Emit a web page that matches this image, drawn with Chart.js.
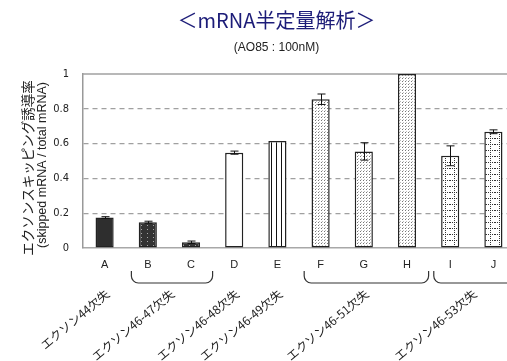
<!DOCTYPE html>
<html><head><meta charset="utf-8">
<script src="https://cdn.jsdelivr.net/npm/chart.js@4.4.0/dist/chart.umd.min.js"></script>
<style>
html,body{margin:0;padding:0;background:#fff;overflow:hidden;width:507px;height:361px}
#wrap{position:relative;width:515px;height:361px}
</style></head><body>
<div id="wrap"><canvas id="c"></canvas></div>
<script>
// ---- data ----
const categories = ['A','B','C','D','E','F','G','H','I','J'];
const values = [0.175, 0.148, 0.033, 0.548, 0.615, 0.855, 0.555, 1.0, 0.530, 0.668];
const errors = [0.005, 0.006, 0.007, 0.009, 0, 0.03, 0.05, 0, 0.057, 0.011];
const yTicks = [0, 0.2, 0.4, 0.6, 0.8, 1];
const groupLabels = ['エクソン44欠失','エクソン46-47欠失','エクソン46-48欠失','エクソン46-49欠失','エクソン46-51欠失','エクソン46-53欠失'];
const groupFirst = [0, 1, 3, 4, 5, 8];
const groupLast  = [0, 2, 3, 4, 7, 9];
const titleText = '＜mRNA半定量解析＞';
const subtitleText = '(AO85 : 100nM)';
const yTitleLines = ['エクソンスキッピング誘導率', '(skipped mRNA / total mRNA)'];
const fillKinds = ['solid','darkdots','darkdots','white','vlines','fine','fine','fine','grid','grid'];

// ---- patterns ----
function makeFill(kind){
  if (kind === 'solid') return '#2e2e2e';
  if (kind === 'white') return '#ffffff';
  const c = document.createElement('canvas');
  const g = c.getContext('2d');
  if (kind === 'darkdots'){
    c.width = 6; c.height = 4;
    g.fillStyle = '#333'; g.fillRect(0,0,6,4);
    g.fillStyle = '#a8a8a8'; g.fillRect(3,1,1,1);
  } else if (kind === 'vlines'){
    c.width = 5; c.height = 2;
    g.fillStyle = '#fff'; g.fillRect(0,0,5,2);
    g.fillStyle = '#111'; g.fillRect(1,0,1,2);
  } else if (kind === 'fine'){
    c.width = 3; c.height = 3;
    g.fillStyle = '#fff'; g.fillRect(0,0,3,3);
    g.fillStyle = '#777'; g.fillRect(0,0,1,1);
    g.fillStyle = '#bbb'; g.fillRect(1,2,1,1);
  } else if (kind === 'grid'){
    c.width = 9; c.height = 6;
    g.fillStyle = '#fff'; g.fillRect(0,0,9,6);
    g.fillStyle = '#333';
    for (let i = 0; i < 9; i += 2) g.fillRect(i,0,1,1);
    for (let j = 0; j < 6; j += 2) g.fillRect(4,j,1,1);
  }
  return document.createElement('canvas').getContext('2d').createPattern(c, 'repeat');
}
const fills = fillKinds.map(makeFill);

// ---- plugin: error bars, top line, y title, brackets, group labels ----
const extras = {
  id: 'extras',
  beforeDatasetsDraw(chart){
    const {ctx, chartArea, scales:{y}} = chart;
    ctx.save();
    ctx.strokeStyle = '#a0a0a0';
    ctx.lineWidth = 1.5;
    const yy = y.getPixelForValue(1);
    ctx.beginPath(); ctx.moveTo(chartArea.left, yy); ctx.lineTo(chartArea.right, yy); ctx.stroke();
    ctx.restore();
  },
  afterDatasetsDraw(chart){
    const {ctx, scales:{x, y}} = chart;
    ctx.save();
    ctx.strokeStyle = '#111';
    ctx.lineWidth = 1;
    values.forEach((v, i) => {
      const e = errors[i];
      if (!e) return;
      const px = Math.round(x.getPixelForValue(i)) + 0.5;
      const yt = y.getPixelForValue(v + e), yb = y.getPixelForValue(v - e);
      ctx.beginPath();
      ctx.moveTo(px, yt); ctx.lineTo(px, yb);
      ctx.moveTo(px - 4, yt); ctx.lineTo(px + 4, yt);
      ctx.moveTo(px - 4, yb); ctx.lineTo(px + 4, yb);
      ctx.stroke();
    });
    ctx.restore();
  },
  afterDraw(chart){
    const {ctx, chartArea, scales:{x}} = chart;
    const cw = x.getPixelForValue(1) - x.getPixelForValue(0);
    ctx.save();
    // y-axis title (two lines, rotated)
    ctx.fillStyle = '#222';
    ctx.textAlign = 'center';
    ctx.textBaseline = 'middle';
    ctx.save();
    ctx.translate(28, 168);
    ctx.rotate(-Math.PI/2);
    ctx.font = '13.5px "Noto Sans CJK JP"';
    ctx.fillText(yTitleLines[0], 0, 0);
    ctx.restore();
    ctx.save();
    ctx.translate(43, 165);
    ctx.rotate(-Math.PI/2);
    ctx.font = '12.5px "Liberation Sans", sans-serif';
    ctx.fillText(yTitleLines[1], 0, 0);
    ctx.restore();

    // brackets
    ctx.strokeStyle = '#333';
    ctx.lineWidth = 1.2;
    groupFirst.forEach((f, k) => {
      const l = groupLast[k];
      if (f === l) return;
      const x0 = x.getPixelForValue(f) - 0.38 * cw;
      const x1 = x.getPixelForValue(l) + 0.5 * cw;
      const yTop = 271, yBot = 283, r = 7;
      ctx.beginPath();
      ctx.moveTo(x0, yTop);
      ctx.arcTo(x0, yBot, x0 + r, yBot, r);
      ctx.lineTo(x1 - r, yBot);
      ctx.arcTo(x1, yBot, x1, yTop, r);
      ctx.lineTo(x1, yTop);
      ctx.stroke();
    });

    // rotated group labels
    ctx.fillStyle = '#222';
    ctx.font = '12px "Noto Sans CJK JP"';
    ctx.textAlign = 'right';
    ctx.textBaseline = 'middle';
    groupLabels.forEach((t, k) => {
      const px = x.getPixelForValue((groupFirst[k] + groupLast[k]) / 2) + 3;
      ctx.save();
      ctx.translate(px, 292);
      ctx.rotate(-40 * Math.PI / 180);
      ctx.fillText(t, 0, 0);
      ctx.restore();
    });
    ctx.restore();
  }
};

new Chart(document.getElementById('c'), {
  type: 'bar',
  data: {
    labels: categories,
    datasets: [{
      data: values,
      backgroundColor: fills,
      borderColor: '#222',
      borderWidth: 1.5,
      borderSkipped: false,
      barPercentage: 0.42,
      categoryPercentage: 1.0
    }]
  },
  options: {
    responsive: true,
    maintainAspectRatio: false,
    animation: false,
    devicePixelRatio: 1,
    layout: { padding: { left: 38, right: 0, top: 0, bottom: 0 } },
    plugins: {
      legend: { display: false },
      tooltip: { enabled: false },
      title: {
        display: true,
        text: titleText,
        color: '#1c1c78',
        font: { family: '"Noto Sans CJK JP"', size: 20, weight: 'normal', lineHeight: 1.2 },
        padding: { top: 8, bottom: 4 }
      },
      subtitle: {
        display: true,
        text: subtitleText,
        color: '#222',
        font: { family: '"Liberation Sans", sans-serif', size: 12, weight: 'normal', lineHeight: 1.2 },
        padding: { top: 4, bottom: 19.6 }
      }
    },
    scales: {
      x: {
        grid: { display: false, drawTicks: false },
        border: { display: true, color: '#a8a8a8', width: 1.5 },
        ticks: {
          color: '#222',
          padding: 10,
          font: { family: '"Liberation Sans", sans-serif', size: 11 },
          maxRotation: 0
        },
        afterFit(scale){ scale.height = 113; }
      },
      y: {
        min: 0, max: 1,
        afterBuildTicks(scale){ scale.ticks = yTicks.map(v => ({ value: v })); },
        grid: {
          drawTicks: false,
          color: (c) => (c.tick && (c.tick.value === 0 || c.tick.value === 1)) ? 'rgba(0,0,0,0)' : '#a0a0a0',
          lineWidth: 1.2
        },
        border: { display: true, color: '#999', width: 1.5, dash: [5, 4] },
        ticks: {
          color: '#222',
          padding: 14,
          font: { family: '"Liberation Sans Narrow", "DejaVu Sans Condensed", "Liberation Sans", sans-serif', size: 11 },
          callback: (v) => String(Math.round(v * 10) / 10)
        },
        afterFit(scale){ scale.width = 45; }
      }
    }
  },
  plugins: [extras]
});
</script>
</body></html>
